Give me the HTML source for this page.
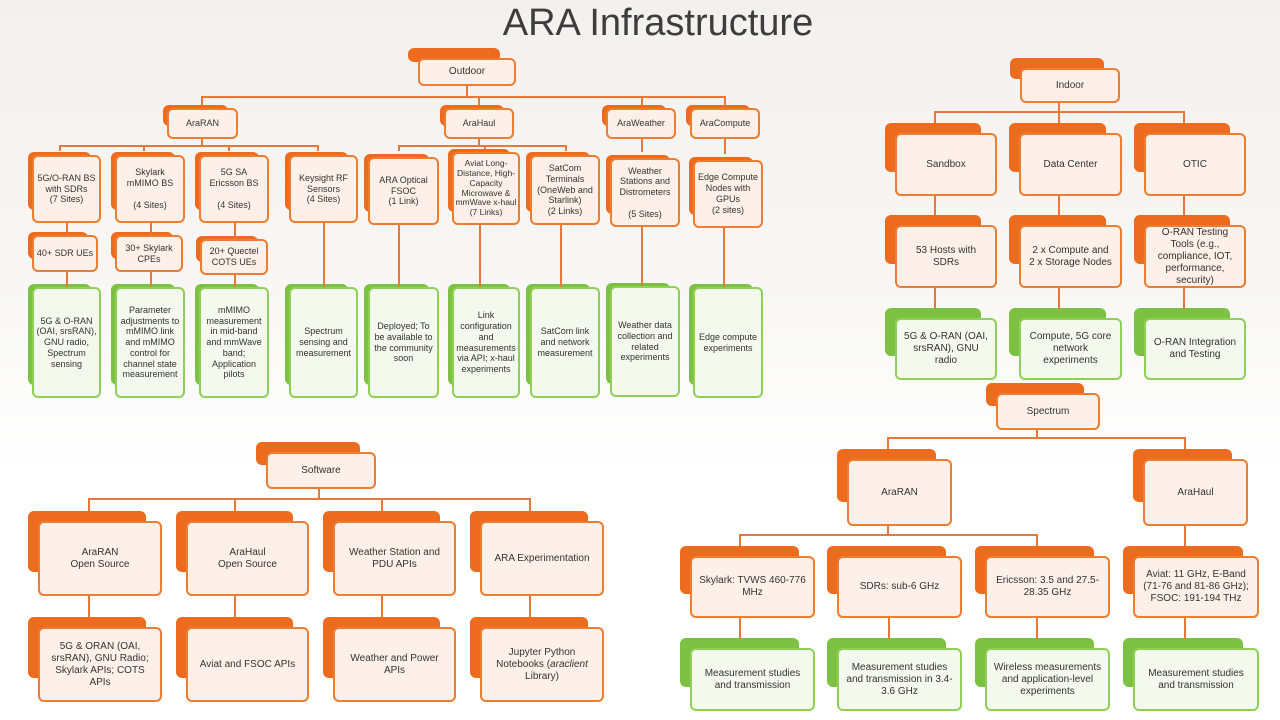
<!DOCTYPE html>
<html><head><meta charset="utf-8"><style>
html,body{margin:0;padding:0}
body{width:1280px;height:720px;position:relative;overflow:hidden;font-family:"Liberation Sans",sans-serif;background:linear-gradient(#f3f1ee 0%,#f8f7f5 40%,#ffffff 65%,#ffffff 100%)}
.t{position:absolute;left:0;width:1316px;top:2px;text-align:center;font-size:38px;color:#3d3d3d}
.n{position:absolute;box-sizing:border-box;border:2px solid #ed7d31;border-radius:6px;background:#fdf0e8;display:flex;align-items:center;justify-content:center;text-align:center;font-size:10px;line-height:1.2;color:#333;padding:2px 4px}
.n::before{content:"";position:absolute;left:-12px;top:-12px;width:calc(100% - 2px);height:calc(100% - 10px);background:#ec6b1f;border-radius:6px;z-index:-1}
.n.s{font-size:9px;padding:2px 2px}
.n.s::before{left:-6px;top:-5px;height:calc(100% - 6px)}
.n.g{border-color:#8fd158;background:#f3f9ed}
.n.g::before{background:#7cc142}
.l{position:absolute;background:#e8773a}
.h{height:2px}.v{width:2px}
</style></head><body>
<div class="t">ARA Infrastructure</div>

<!-- Outdoor -->
<div class="l v" style="left:466px;top:84px;height:14px"></div>
<div class="l h" style="left:201px;top:96px;width:524px"></div>
<div class="l v" style="left:201px;top:96px;height:10px"></div>
<div class="l v" style="left:478px;top:96px;height:10px"></div>
<div class="l v" style="left:641px;top:96px;height:10px"></div>
<div class="l v" style="left:724px;top:96px;height:10px"></div>
<div class="l v" style="left:201px;top:138px;height:9px"></div>
<div class="l h" style="left:59px;top:145px;width:260px"></div>
<div class="l v" style="left:59px;top:145px;height:6px"></div>
<div class="l v" style="left:143px;top:145px;height:6px"></div>
<div class="l v" style="left:228px;top:145px;height:6px"></div>
<div class="l v" style="left:317px;top:145px;height:6px"></div>
<div class="l v" style="left:478px;top:138px;height:9px"></div>
<div class="l h" style="left:398px;top:145px;width:168px"></div>
<div class="l v" style="left:398px;top:145px;height:6px"></div>
<div class="l v" style="left:484px;top:145px;height:6px"></div>
<div class="l v" style="left:565px;top:145px;height:6px"></div>
<div class="l v" style="left:641px;top:138px;height:14px"></div>
<div class="l v" style="left:724px;top:138px;height:16px"></div>
<div class="l v" style="left:66px;top:222px;height:14px"></div>
<div class="l v" style="left:150px;top:222px;height:14px"></div>
<div class="l v" style="left:234px;top:222px;height:18px"></div>
<div class="l v" style="left:66px;top:271px;height:16px"></div>
<div class="l v" style="left:150px;top:271px;height:16px"></div>
<div class="l v" style="left:234px;top:274px;height:13px"></div>
<div class="l v" style="left:323px;top:222px;height:65px"></div>
<div class="l v" style="left:398px;top:224px;height:63px"></div>
<div class="l v" style="left:479px;top:224px;height:63px"></div>
<div class="l v" style="left:560px;top:224px;height:63px"></div>
<div class="l v" style="left:641px;top:226px;height:61px"></div>
<div class="l v" style="left:723px;top:227px;height:60px"></div>

<div class="n" style="left:418px;top:58px;width:98px;height:28px">Outdoor</div>
<div class="n s" style="left:167px;top:108px;width:71px;height:31px">AraRAN</div>
<div class="n s" style="left:444px;top:108px;width:70px;height:31px">AraHaul</div>
<div class="n s" style="left:606px;top:108px;width:70px;height:31px">AraWeather</div>
<div class="n s" style="left:690px;top:108px;width:70px;height:31px">AraCompute</div>

<div class="n s" style="left:32px;top:155px;width:69px;height:68px"><span>5G/O-RAN BS with SDRs<br>(7 Sites)</span></div>
<div class="n s" style="left:115px;top:155px;width:70px;height:68px"><span>Skylark mMIMO BS<br><br>(4 Sites)</span></div>
<div class="n s" style="left:199px;top:155px;width:70px;height:68px"><span>5G SA Ericsson BS<br><br>(4 Sites)</span></div>
<div class="n s" style="left:289px;top:155px;width:69px;height:68px"><span>Keysight RF Sensors<br>(4 Sites)</span></div>
<div class="n s" style="left:368px;top:157px;width:71px;height:68px"><span>ARA Optical FSOC<br>(1 Link)</span></div>
<div class="n s" style="left:452px;top:152px;width:68px;height:73px;padding:1px;font-size:8.5px;line-height:1.15">Aviat Long-Distance, High-Capacity Microwave &amp; mmWave x-haul (7 Links)</div>
<div class="n s" style="left:530px;top:155px;width:70px;height:70px"><span>SatCom Terminals (OneWeb and Starlink)<br>(2 Links)</span></div>
<div class="n s" style="left:610px;top:158px;width:70px;height:69px"><span>Weather Stations and Distrometers<br><br>(5 Sites)</span></div>
<div class="n s" style="left:693px;top:160px;width:70px;height:68px"><span>Edge Compute Nodes with GPUs<br>(2 sites)</span></div>

<div class="n s" style="left:32px;top:235px;width:66px;height:37px">40+ SDR UEs</div>
<div class="n s" style="left:115px;top:235px;width:68px;height:37px">30+ Skylark CPEs</div>
<div class="n s" style="left:200px;top:239px;width:68px;height:36px">20+ Quectel COTS UEs</div>

<div class="n s g" style="left:32px;top:287px;width:69px;height:111px">5G &amp; O-RAN (OAI, srsRAN), GNU radio, Spectrum sensing</div>
<div class="n s g" style="left:115px;top:287px;width:70px;height:111px">Parameter adjustments to mMIMO link and mMIMO control for channel state measurement</div>
<div class="n s g" style="left:199px;top:287px;width:70px;height:111px">mMIMO measurement in mid-band and mmWave band; Application pilots</div>
<div class="n s g" style="left:289px;top:287px;width:69px;height:111px">Spectrum sensing and measurement</div>
<div class="n s g" style="left:368px;top:287px;width:71px;height:111px">Deployed; To be available to the community soon</div>
<div class="n s g" style="left:452px;top:287px;width:68px;height:111px">Link configuration and measurements via API; x-haul experiments</div>
<div class="n s g" style="left:530px;top:287px;width:70px;height:111px">SatCom link and network measurement</div>
<div class="n s g" style="left:610px;top:286px;width:70px;height:111px">Weather data collection and related experiments</div>
<div class="n s g" style="left:693px;top:287px;width:70px;height:111px">Edge compute experiments</div>

<!-- Indoor -->
<div class="l v" style="left:1058px;top:102px;height:11px"></div>
<div class="l h" style="left:934px;top:111px;width:251px"></div>
<div class="l v" style="left:934px;top:111px;height:12px"></div>
<div class="l v" style="left:1058px;top:111px;height:12px"></div>
<div class="l v" style="left:1183px;top:111px;height:12px"></div>
<div class="l v" style="left:934px;top:195px;height:20px"></div>
<div class="l v" style="left:1058px;top:195px;height:20px"></div>
<div class="l v" style="left:1183px;top:195px;height:20px"></div>
<div class="l v" style="left:934px;top:287px;height:22px"></div>
<div class="l v" style="left:1058px;top:287px;height:22px"></div>
<div class="l v" style="left:1183px;top:287px;height:22px"></div>
<div class="n" style="left:1020px;top:68px;width:100px;height:35px">Indoor</div>
<div class="n" style="left:895px;top:133px;width:102px;height:63px">Sandbox</div>
<div class="n" style="left:1019px;top:133px;width:103px;height:63px">Data Center</div>
<div class="n" style="left:1144px;top:133px;width:102px;height:63px">OTIC</div>
<div class="n" style="left:895px;top:225px;width:102px;height:63px;padding:2px 12px">53 Hosts with SDRs</div>
<div class="n" style="left:1019px;top:225px;width:103px;height:63px;padding:2px 8px">2 x Compute and 2 x Storage Nodes</div>
<div class="n" style="left:1144px;top:225px;width:102px;height:63px;padding:2px 8px">O-RAN Testing Tools (e.g., compliance, IOT, performance, security)</div>
<div class="n g" style="left:895px;top:318px;width:102px;height:62px">5G &amp; O-RAN (OAI, srsRAN), GNU radio</div>
<div class="n g" style="left:1019px;top:318px;width:103px;height:62px">Compute, 5G core network experiments</div>
<div class="n g" style="left:1144px;top:318px;width:102px;height:62px">O-RAN Integration and Testing</div>

<!-- Spectrum -->
<div class="l v" style="left:1036px;top:429px;height:10px"></div>
<div class="l h" style="left:887px;top:437px;width:298px"></div>
<div class="l v" style="left:887px;top:437px;height:12px"></div>
<div class="l v" style="left:1184px;top:437px;height:12px"></div>
<div class="l v" style="left:887px;top:525px;height:11px"></div>
<div class="l h" style="left:739px;top:534px;width:298px"></div>
<div class="l v" style="left:739px;top:534px;height:12px"></div>
<div class="l v" style="left:1036px;top:534px;height:12px"></div>
<div class="l v" style="left:1184px;top:524px;height:22px"></div>
<div class="l v" style="left:739px;top:617px;height:22px"></div>
<div class="l v" style="left:888px;top:617px;height:22px"></div>
<div class="l v" style="left:1036px;top:617px;height:22px"></div>
<div class="l v" style="left:1184px;top:617px;height:22px"></div>
<div class="n" style="left:996px;top:393px;width:104px;height:37px">Spectrum</div>
<div class="n" style="left:847px;top:459px;width:105px;height:67px">AraRAN</div>
<div class="n" style="left:1143px;top:459px;width:105px;height:67px">AraHaul</div>
<div class="n" style="left:690px;top:556px;width:125px;height:62px">Skylark: TVWS 460-776 MHz</div>
<div class="n" style="left:837px;top:556px;width:125px;height:62px">SDRs: sub-6 GHz</div>
<div class="n" style="left:985px;top:556px;width:125px;height:62px">Ericsson: 3.5 and 27.5-28.35 GHz</div>
<div class="n" style="left:1133px;top:556px;width:126px;height:62px">Aviat: 11 GHz, E-Band (71-76 and 81-86 GHz); FSOC: 191-194 THz</div>
<div class="n g" style="left:690px;top:648px;width:125px;height:63px">Measurement studies and transmission</div>
<div class="n g" style="left:837px;top:648px;width:125px;height:63px">Measurement studies and transmission in 3.4-3.6 GHz</div>
<div class="n g" style="left:985px;top:648px;width:125px;height:63px">Wireless measurements and application-level experiments</div>
<div class="n g" style="left:1133px;top:648px;width:126px;height:63px">Measurement studies and transmission</div>

<!-- Software -->
<div class="l v" style="left:318px;top:488px;height:12px"></div>
<div class="l h" style="left:88px;top:498px;width:443px"></div>
<div class="l v" style="left:88px;top:498px;height:13px"></div>
<div class="l v" style="left:234px;top:498px;height:13px"></div>
<div class="l v" style="left:381px;top:498px;height:13px"></div>
<div class="l v" style="left:529px;top:498px;height:13px"></div>
<div class="l v" style="left:88px;top:595px;height:23px"></div>
<div class="l v" style="left:234px;top:595px;height:23px"></div>
<div class="l v" style="left:381px;top:595px;height:23px"></div>
<div class="l v" style="left:529px;top:595px;height:23px"></div>
<div class="n" style="left:266px;top:452px;width:110px;height:37px">Software</div>
<div class="n" style="left:38px;top:521px;width:124px;height:75px"><span>AraRAN<br>Open Source</span></div>
<div class="n" style="left:186px;top:521px;width:123px;height:75px"><span>AraHaul<br>Open Source</span></div>
<div class="n" style="left:333px;top:521px;width:123px;height:75px">Weather Station and PDU APIs</div>
<div class="n" style="left:480px;top:521px;width:124px;height:75px">ARA Experimentation</div>
<div class="n" style="left:38px;top:627px;width:124px;height:75px;padding:2px 10px">5G &amp; ORAN (OAI, srsRAN), GNU Radio; Skylark APIs; COTS APIs</div>
<div class="n" style="left:186px;top:627px;width:123px;height:75px">Aviat and FSOC APIs</div>
<div class="n" style="left:333px;top:627px;width:123px;height:75px;padding:2px 10px">Weather and Power APIs</div>
<div class="n" style="left:480px;top:627px;width:124px;height:75px;padding:2px 10px"><span>Jupyter Python Notebooks (<i>araclient</i> Library)</span></div>
</body></html>
